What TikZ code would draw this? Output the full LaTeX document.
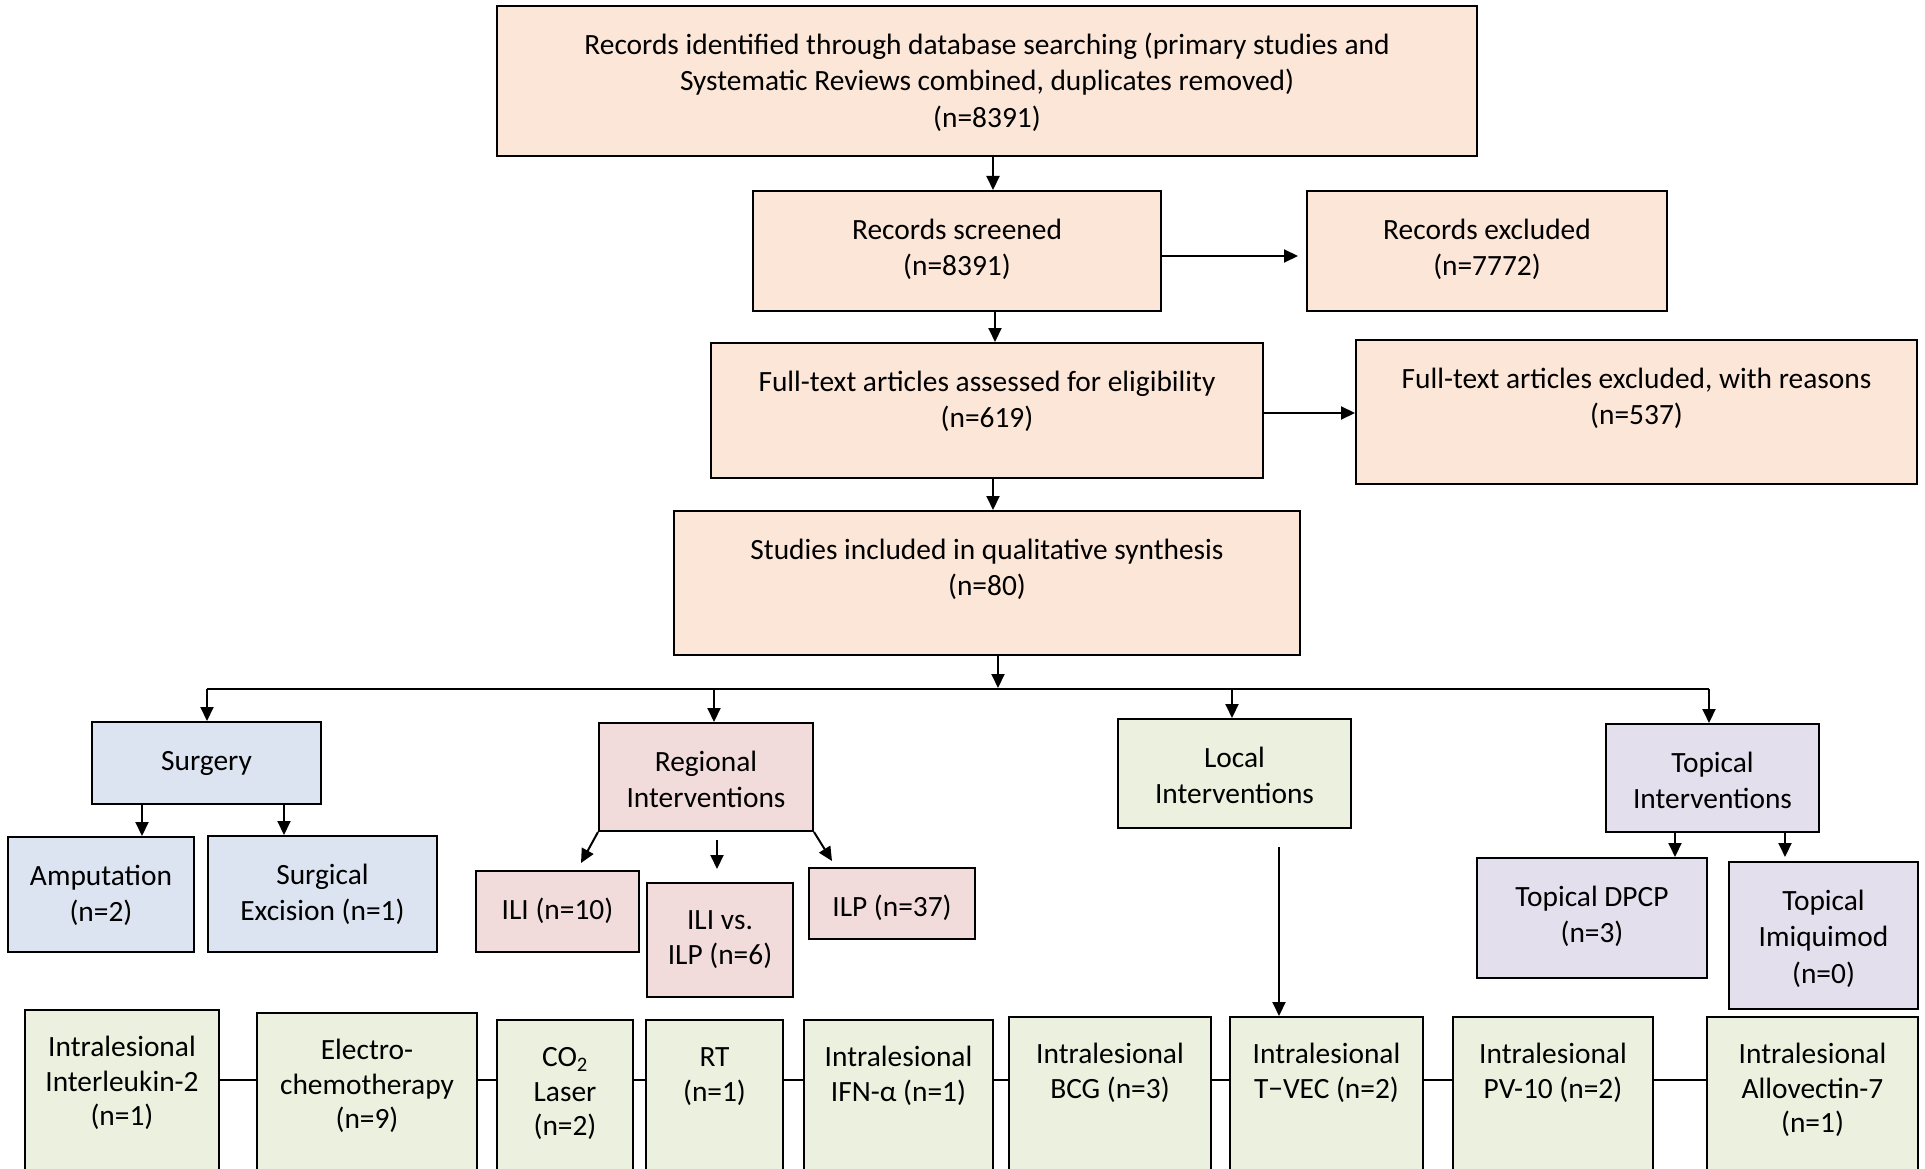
\documentclass[tikz,border=0pt]{standalone}
\usepackage{fontspec}
\setmainfont{Carlito}
\usetikzlibrary{arrows.meta,calc}
\definecolor{peach}{HTML}{FCE6D8}
\definecolor{blu}{HTML}{DCE4F1}
\definecolor{pnk}{HTML}{F2DCDB}
\definecolor{grn}{HTML}{EBF1DE}
\definecolor{prp}{HTML}{E4DFEC}
\tikzset{
  boxbase/.style={draw=black, line width=2pt, inner sep=0pt, rectangle},
  txt/.style={inner sep=0pt, align=center, font=\fontsize{29.4}{36.5}\selectfont},
  txtb/.style={inner sep=0pt, align=center, font=\fontsize{29.4}{34.5}\selectfont},
  arr/.style={line width=2pt, -{Triangle[length=14pt,width=13pt]}},
  con/.style={line width=2pt},
}
\newcommand\mybox[8]{%
  \pgfmathsetmacro\bxcx{(#2+#4)/2}%
  \pgfmathsetmacro\bxcy{(#3+#5)/2}%
  \pgfmathsetmacro\bxw{#4-#2}%
  \pgfmathsetmacro\bxh{#5-#3}%
  \node[boxbase, fill=#6, minimum width=\bxw pt, minimum height=\bxh pt] (#1) at (\bxcx,\bxcy) {};
  \node[#7, anchor=north] (#1t) at (\bxcx,#3+22.3) {\strut #8};
}
\begin{document}
\begin{tikzpicture}[x=1pt,y=-1pt]
\useasboundingbox (0,0) rectangle (1925,1169);
\clip (0,0) rectangle (1925,1169);
\fill[white] (0,0) rectangle (1925,1169);

% PRISMA part
\mybox{top}{497}{6}{1477}{156}{peach}{txt}{Records identified through database searching (primary studies and\\Systematic Reviews combined, duplicates removed)\\(n=8391)}
\mybox{scr}{753}{191}{1161}{311}{peach}{txt}{Records screened\\(n=8391)}
\mybox{exc}{1307}{191}{1667}{311}{peach}{txt}{Records excluded\\(n=7772)}
\mybox{ft}{711}{343}{1263}{478}{peach}{txt}{Full-text articles assessed for eligibility\\(n=619)}
\mybox{fte}{1356}{340}{1917}{484}{peach}{txt}{Full-text articles excluded, with reasons\\(n=537)}
\mybox{st}{674}{511}{1300}{655}{peach}{txt}{Studies included in qualitative synthesis\\(n=80)}

% categories
\mybox{sur}{92}{722}{321}{804}{blu}{txt}{Surgery}
\mybox{reg}{599}{723}{813}{831}{pnk}{txt}{Regional\\Interventions}
\mybox{loc}{1118}{719}{1351}{828}{grn}{txt}{Local\\Interventions}
\mybox{topi}{1606}{724}{1819}{832}{prp}{txt}{Topical\\Interventions}

% surgery children
\mybox{amp}{8}{837}{194}{952}{blu}{txt}{Amputation\\(n=2)}
\mybox{sex}{208}{836}{437}{952}{blu}{txt}{Surgical\\Excision (n=1)}

% regional children
\mybox{ili}{476}{871}{639}{952}{pnk}{txt}{ILI (n=10)}
\mybox{ilv}{647}{883}{793}{997}{pnk}{txtb}{ILI vs.\\ILP (n=6)}
\mybox{ilp}{809}{868}{975}{939}{pnk}{txt}{ILP (n=37)}

% topical children
\mybox{dpcp}{1477}{858}{1707}{978}{prp}{txt}{Topical DPCP\\(n=3)}
\mybox{imq}{1729}{862}{1918}{1009}{prp}{txt}{Topical\\Imiquimod\\(n=0)}

% local children (bottom row)
\mybox{b1}{25}{1010}{219}{1185}{grn}{txtb}{Intralesional\\Interleukin-2\\(n=1)}
\mybox{b2}{257}{1013}{477}{1185}{grn}{txtb}{Electro-\\chemotherapy\\(n=9)}
\mybox{b3}{497}{1020}{633}{1185}{grn}{txtb}{CO\textsubscript{2}\\Laser\\(n=2)}
\mybox{b4}{646}{1020}{783}{1185}{grn}{txtb}{RT\\(n=1)}
\mybox{b5}{804}{1020}{993}{1185}{grn}{txtb}{Intralesional\\IFN-α (n=1)}
\mybox{b6}{1009}{1017}{1211}{1185}{grn}{txtb}{Intralesional\\BCG (n=3)}
\mybox{b7}{1230}{1017}{1423}{1185}{grn}{txtb}{Intralesional\\T−VEC (n=2)}
\mybox{b8}{1453}{1017}{1653}{1185}{grn}{txtb}{Intralesional\\PV-10 (n=2)}
\mybox{b9}{1707}{1017}{1918}{1185}{grn}{txtb}{Intralesional\\Allovectin-7\\(n=1)}

% helper coordinates
\coordinate (xa) at (993,0);
\coordinate (xb) at (995,0);
\coordinate (xc) at (998,0);
\coordinate (ya) at (0,256);
\coordinate (yb) at (0,413);
\coordinate (excin) at (1298,256);
\coordinate (lineL) at (207,689);
\coordinate (lineR) at (1709,689);
\coordinate (lineC) at (998,688);
\coordinate (xreg) at (714,689);
\coordinate (xloc) at (1232,689);
\coordinate (xs1) at (142,0);
\coordinate (xs2) at (284,0);
\coordinate (tipL) at (581,863);
\coordinate (midA) at (717,840);
\coordinate (midB) at (717,869);
\coordinate (tipR) at (832,861);
\coordinate (locA) at (1279,847);
\coordinate (xt1) at (1675,0);
\coordinate (xt2) at (1785,0);
\coordinate (imqin) at (1785,857);
\coordinate (yr) at (0,1080);

% PRISMA arrows
\draw[arr] (top.south -| xa) -- (scr.north -| xa);
\draw[arr] (scr.east |- ya) -- (excin);
\draw[arr] (scr.south -| xb) -- (ft.north -| xb);
\draw[arr] (ft.east |- yb) -- (fte.west |- yb);
\draw[arr] (ft.south -| xa) -- (st.north -| xa);
\draw[arr] (st.south -| xc) -- (lineC);

% branch line
\draw[con] (lineL) -- (lineR);
\draw[arr] (lineL) -- (sur.north -| lineL);
\draw[arr] (xreg) -- (reg.north -| xreg);
\draw[arr] (xloc) -- (loc.north -| xloc);
\draw[arr] (lineR) -- (topi.north -| lineR);

% surgery
\draw[arr] (sur.south -| xs1) -- (amp.north -| xs1);
\draw[arr] (sur.south -| xs2) -- (sex.north -| xs2);

% regional
\draw[arr] (reg.south west) -- (tipL);
\draw[arr] (midA) -- (midB);
\draw[arr] (reg.south east) -- (tipR);

% local
\draw[arr] (locA) -- (b7.north -| locA);

% topical
\draw[arr] (topi.south -| xt1) -- (dpcp.north -| xt1);
\draw[arr] (topi.south -| xt2) -- (imqin);

% bottom row connectors
\draw[con] (b1.east |- yr) -- (b2.west |- yr);
\draw[con] (b2.east |- yr) -- (b3.west |- yr);
\draw[con] (b3.east |- yr) -- (b4.west |- yr);
\draw[con] (b4.east |- yr) -- (b5.west |- yr);
\draw[con] (b5.east |- yr) -- (b6.west |- yr);
\draw[con] (b6.east |- yr) -- (b7.west |- yr);
\draw[con] (b7.east |- yr) -- (b8.west |- yr);
\draw[con] (b8.east |- yr) -- (b9.west |- yr);
\end{tikzpicture}
\end{document}
